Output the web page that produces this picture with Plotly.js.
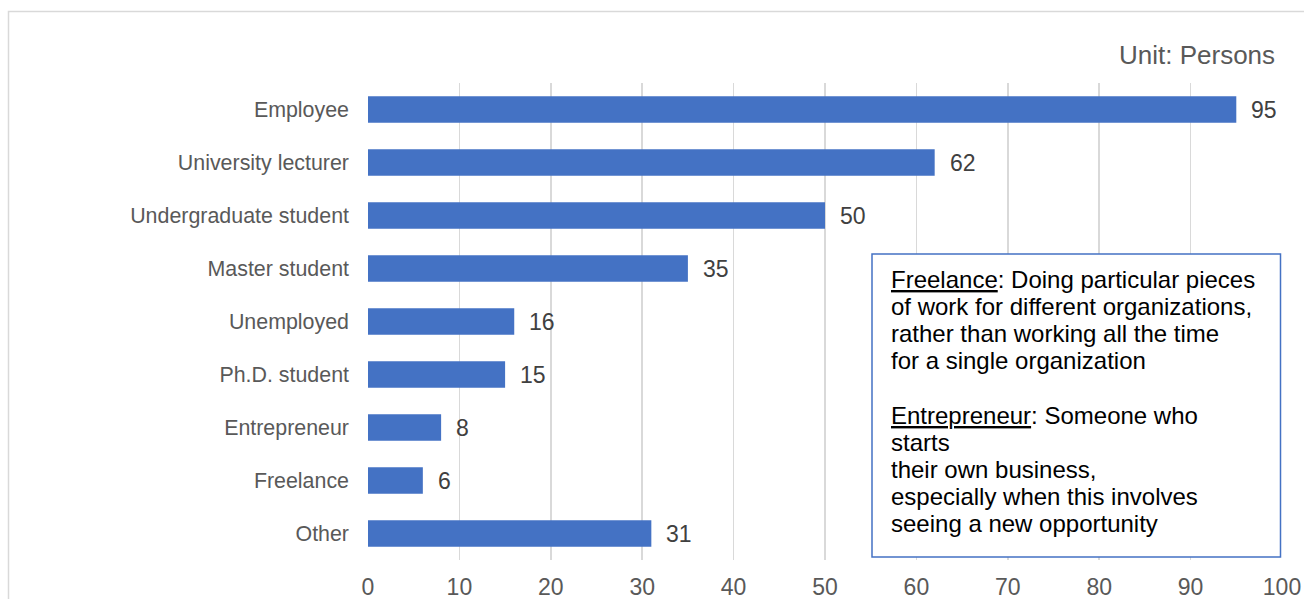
<!DOCTYPE html>
<html>
<head>
<meta charset="utf-8">
<script src="https://cdn.plot.ly/plotly-3.0.1.min.js"></script>
<style>html,body{margin:0;padding:0;background:#fff;}#chart{width:1304px;height:599px;}</style>
</head>
<body>
<div id="chart"></div>
<script>
const categories = ["Employee", "University lecturer", "Undergraduate student", "Master student", "Unemployed", "Ph.D. student", "Entrepreneur", "Freelance", "Other"];
const persons = [95, 62, 50, 35, 16, 15, 8, 6, 31];
const xTicks = [0, 10, 20, 30, 40, 50, 60, 70, 80, 90, 100];
const unitLabel = "Unit: Persons";
const noteLines = [
  "<u>Freelance</u>: Doing particular pieces",
  "of work for different organizations,",
  "rather than working all the time",
  "for a single organization",
  "",
  "<u>Entrepreneur</u>: Someone who",
  "starts",
  "their own business,",
  "especially when this involves",
  "seeing a new opportunity"
];

const FONT = "Liberation Sans, Arial, sans-serif";
const W = 1304, H = 599;
const mL = 368, mR = 22, mT = 83, mB = 39;
const pw = W - mL - mR, ph = H - mT - mB;
const px2x = p => (p - mL) / pw;
const py2y = p => 1 - (p - mT) / ph;

const trace = {
  type: "bar",
  orientation: "h",
  x: persons,
  y: categories,
  marker: {color: "#4472c4"},
  width: 0.5,
  hoverinfo: "x+y"
};

const annotations = [];
// value labels
categories.forEach((c, i) => {
  annotations.push({
    x: persons[i], y: c, xref: "x", yref: "y",
    text: String(persons[i]), showarrow: false,
    xanchor: "left", yanchor: "middle", xshift: 13,
    font: {family: FONT, size: 23, color: "#404040"}
  });
});
// unit label
annotations.push({
  xref: "paper", yref: "paper", x: px2x(1277), y: py2y(55),
  xanchor: "right", yanchor: "middle", showarrow: false,
  text: unitLabel, font: {family: FONT, size: 26, color: "#595959"}
});
// note box lines
noteLines.forEach((t, i) => {
  if (!t) return;
  annotations.push({
    xref: "paper", yref: "paper", x: px2x(889), y: 1,
    yshift: -(279 + i * 27.2 - mT),
    xanchor: "left", yanchor: "middle", showarrow: false,
    text: t, font: {family: FONT, size: 24, color: "#000000"}
  });
});

const shapes = [
  // outer chart border
  {type: "rect", xref: "paper", yref: "paper",
   x0: px2x(8.5), x1: px2x(1320), y0: py2y(11.5), y1: py2y(620),
   line: {color: "#d9d9d9", width: 1.5}, fillcolor: "rgba(0,0,0,0)", layer: "below"},
  // note box
  {type: "rect", xref: "paper", yref: "paper",
   x0: px2x(872), x1: px2x(1280.5), y0: py2y(254), y1: py2y(557),
   line: {color: "#4472c4", width: 1.5}, fillcolor: "#ffffff", layer: "above"}
];

const layout = {
  width: W, height: H,
  margin: {l: mL, r: mR, t: mT, b: mB, pad: 0},
  paper_bgcolor: "#ffffff", plot_bgcolor: "#ffffff",
  showlegend: false,
  xaxis: {
    range: [0, 100], tickvals: xTicks, ticktext: xTicks.map(String),
    showgrid: true, gridcolor: "#d9d9d9", gridwidth: 1.5,
    zeroline: false, showline: false, ticks: "",
    tickfont: {family: FONT, size: 23, color: "#595959"},
    ticklabelstandoff: 11, fixedrange: true
  },
  yaxis: {
    type: "category", autorange: "reversed",
    showgrid: false, zeroline: false, showline: false, ticks: "",
    tickfont: {family: FONT, size: 21.4, color: "#595959"},
    ticklabelstandoff: 18, fixedrange: true
  },
  annotations: annotations,
  shapes: shapes
};

Plotly.newPlot("chart", [trace], layout, {displayModeBar: false, staticPlot: true});
</script>
</body>
</html>
